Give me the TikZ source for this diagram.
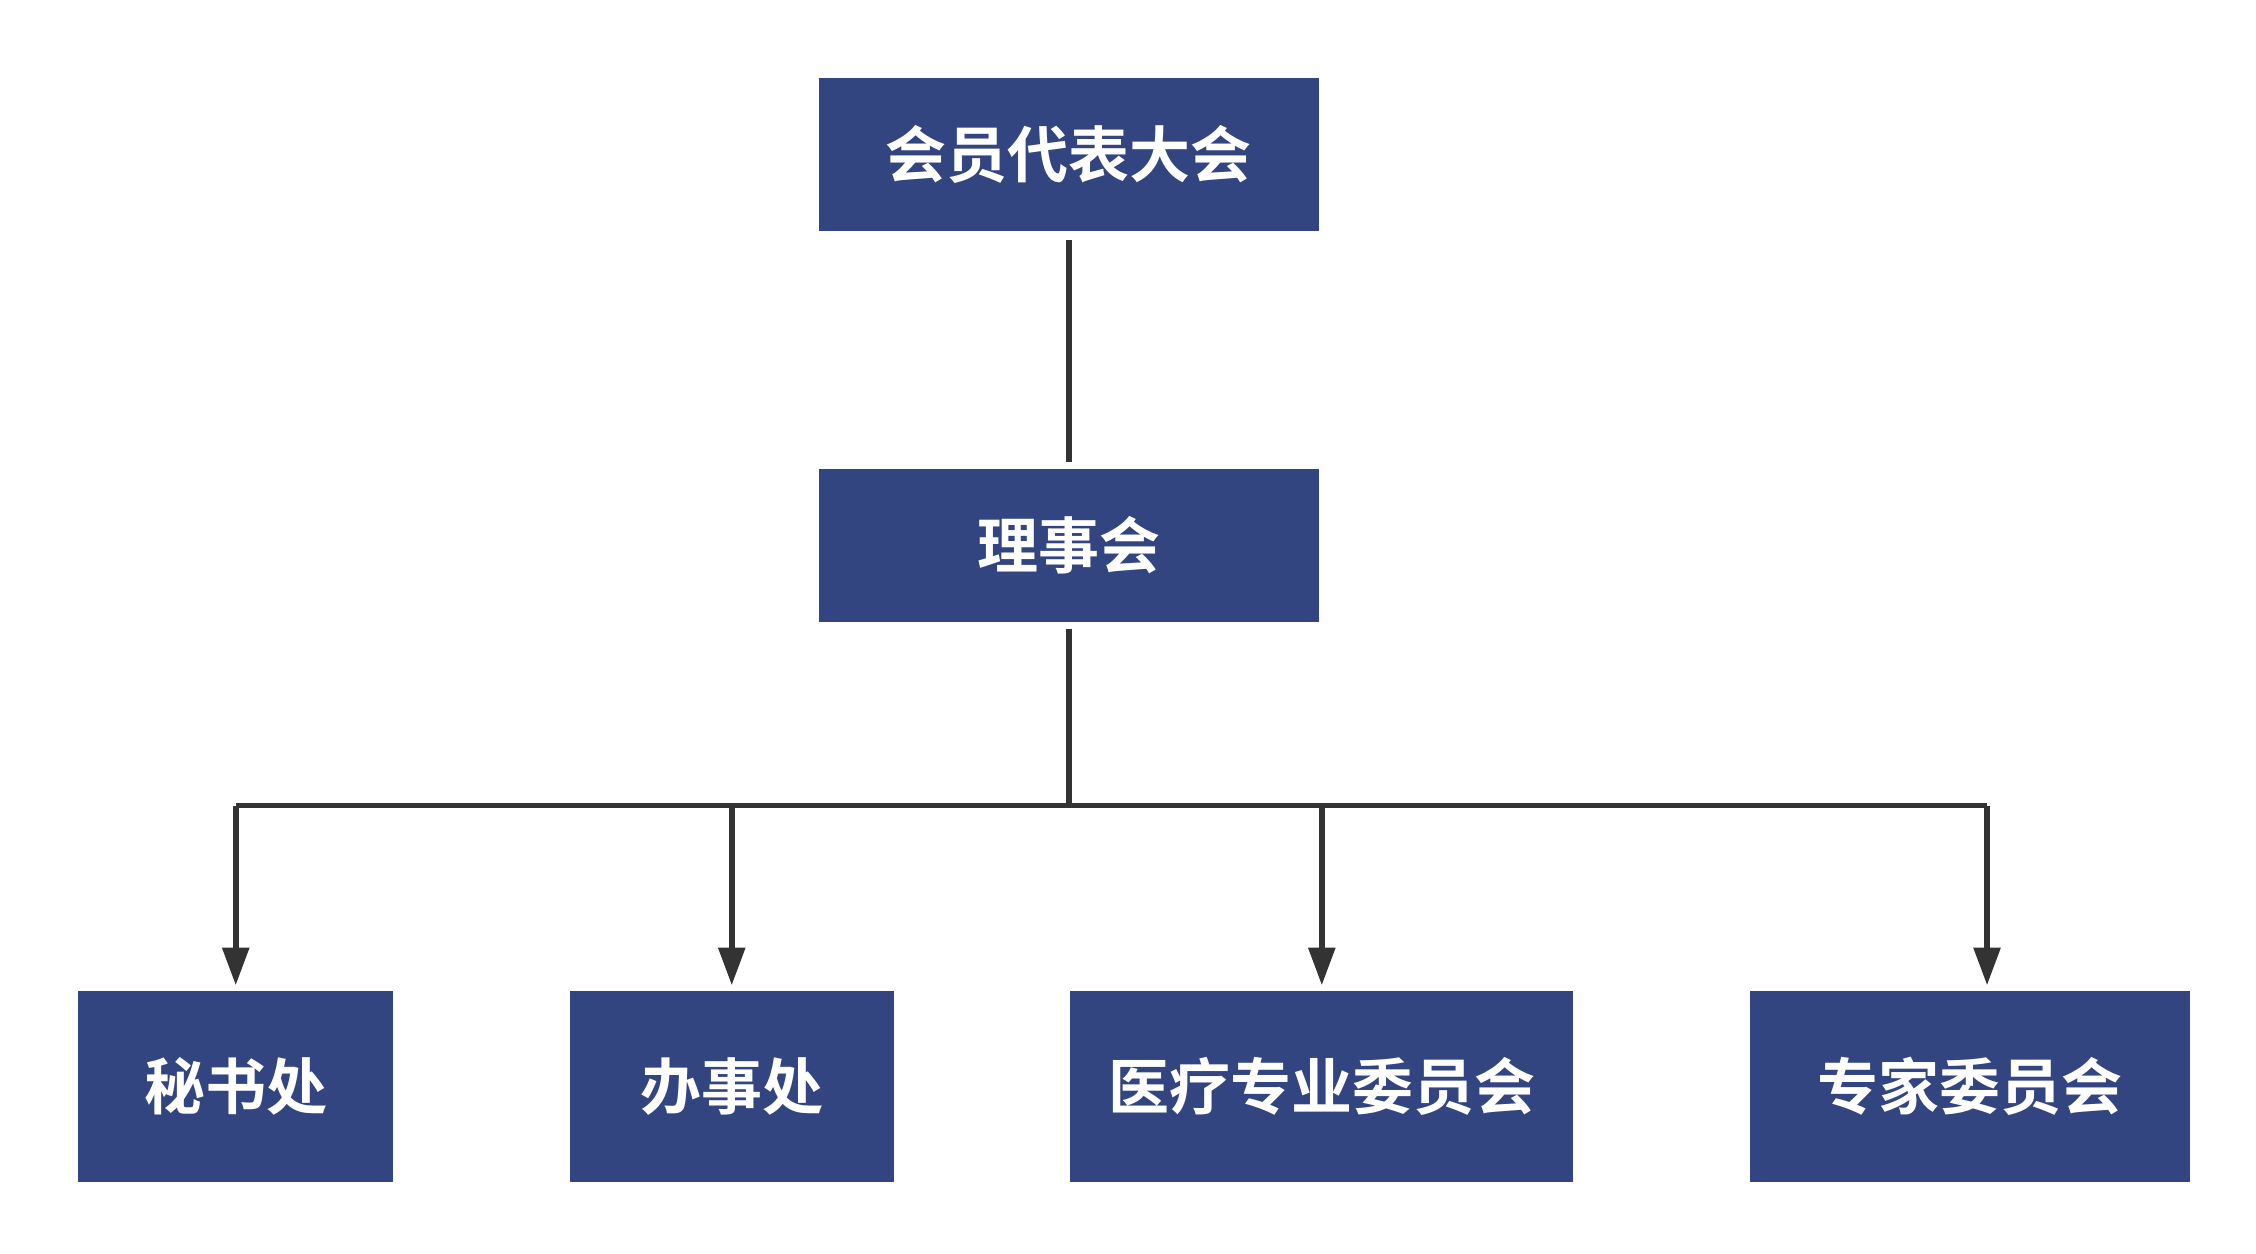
\documentclass[tikz,border=0pt]{standalone}
\usepackage{fontspec}
\setmainfont{Noto Sans CJK SC}[BoldFont={* Bold}]
\usetikzlibrary{arrows.meta,positioning}
\definecolor{boxblue}{RGB}{51,69,128}
\definecolor{linegray}{RGB}{51,51,51}
\tikzset{
  org/.style={draw=none,fill=boxblue,text=white,font=\bfseries\fontsize{12pt}{14pt}\selectfont,inner sep=0pt},
  link/.style={draw=linegray,line width=1.1pt},
  tip/.style={link,-{Triangle[length=0.26cm,width=0.18cm]},shorten >=0.03cm}
}
\begin{document}
\begin{tikzpicture}
\useasboundingbox (0,0) rectangle (15.6,-8.67);
\node[org,minimum width=3.46cm,minimum height=1.06cm] (dahui) at (7.39,-1.07) {会员代表大会};
\node[org,minimum width=3.46cm,minimum height=1.06cm] (lishi) at (7.39,-3.77) {理事会};
\node[org,minimum width=2.18cm,minimum height=1.32cm] (mishu) at (1.63,-7.51) {秘书处};
\node[org,minimum width=2.24cm,minimum height=1.32cm] (banshi) at (5.06,-7.51) {办事处};
\node[org,minimum width=3.48cm,minimum height=1.32cm] (yiliao) at (9.14,-7.51) {医疗专业委员会};
\node[org,minimum width=3.04cm,minimum height=1.32cm] (zhuanjia) at (13.62,-7.51) {专家委员会};
\coordinate (fork) at (7.39,-5.57);

\draw[link,shorten <=0.05cm,shorten >=0.04cm] (dahui) -- (lishi);
\draw[link,shorten <=0.04cm] (lishi) -- (fork);
\draw[link] (mishu.north |- fork) -- ([xshift=0.12cm]zhuanjia.north |- fork);
\draw[tip] (mishu.north |- fork) -- (mishu.north);
\draw[tip] (banshi.north |- fork) -- (banshi.north);
\draw[tip] (yiliao.north |- fork) -- (yiliao.north);
\draw[tip] ([xshift=0.12cm]zhuanjia.north |- fork) -- ([xshift=0.12cm]zhuanjia.north);
\end{tikzpicture}
\end{document}
